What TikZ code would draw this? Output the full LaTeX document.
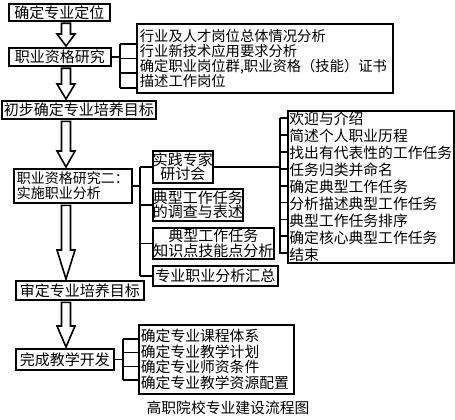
\documentclass[tikz,border=0pt]{standalone}
\usepackage{fontspec}
\setmainfont{Noto Sans CJK SC}
\usetikzlibrary{calc}
\tikzset{
  x=1pt, y=-1pt,
  box/.style={draw, line width=1.8pt, inner xsep=3pt, inner ysep=0pt, anchor=north west, align=center,
    font=\fontsize{15}{14.5}\selectfont},
  listbox/.style={draw, line width=1.8pt, inner xsep=3pt, inner ysep=0pt, anchor=north west, align=left},
  link/.style={line width=1.8pt},
  harrow/.style={line width=1.6pt, fill=white, line join=miter},
}
\newcommand\harr[3]{%
  \draw[harrow] ($(#1.south -| ax)+(-4.5,1.5)$) -- ($(#2.north -| ax)+(-4.5,-#3)$)
    -- ($(#2.north -| ax)+(-9,-#3)$) -- ($(#2.north -| ax)+(0,-1)$)
    -- ($(#2.north -| ax)+(9,-#3)$) -- ($(#2.north -| ax)+(4.5,-#3)$)
    -- ($(#1.south -| ax)+(4.5,1.5)$) -- cycle;}
\begin{document}
\begin{tikzpicture}
\useasboundingbox (0,0) rectangle (455,420);
\coordinate (ax) at (66,0);
% main column
\node[box, minimum width=101pt, minimum height=17pt] (b1) at (8,3) {确定专业定位};
\node[box, minimum width=102pt, minimum height=18pt] (b2) at (8,47) {职业资格研究};
\node[box, minimum width=154pt, minimum height=18pt, inner xsep=1pt] (b3) at (1,100) {初步确定专业培养目标};
\node[box, minimum width=117pt, minimum height=34pt, align=left, font=\fontsize{14}{14.5}\selectfont] (b4) at (13,168) {职业资格研究二：\\实施职业分析};
\node[box, minimum width=128pt, minimum height=19pt] (b5) at (15,280) {审定专业培养目标};
\node[box, minimum width=98pt, minimum height=21pt] (b6) at (15,348) {完成教学开发};
% lists
\node[listbox, text width=250pt, minimum height=69pt, font=\fontsize{14.3}{15}\selectfont] (r1) at (136,23)
  {行业及人才岗位总体情况分析\\行业新技术应用要求分析\\确定职业岗位群,职业资格（技能）证书\\描述工作岗位};
\node[listbox, text width=163pt, minimum height=152pt, inner xsep=1.5pt, font=\fontsize{14.8}{16.9}\selectfont] (big) at (287,110)
  {欢迎与介绍\\简述个人职业历程\\找出有代表性的工作任务\\任务归类并命名\\确定典型工作任务\\分析描述典型工作任务\\典型工作任务排序\\确定核心典型工作任务\\结束};
\node[listbox, text width=151pt, minimum height=69pt, inner xsep=2pt, font=\fontsize{14.8}{15.7}\selectfont] (b7) at (138,324)
  {确定专业课程体系\\确定专业教学计划\\确定专业师资条件\\确定专业教学资源配置};
% middle column
\node[box, minimum width=60pt, minimum height=32pt, inner xsep=0pt] (m1) at (152,150) {实践专家\\研讨会};
\node[box, minimum width=90pt, minimum height=32pt, inner xsep=0pt] (m2) at (152,188) {典型工作任务\\的调查与表述};
\node[box, minimum width=121pt, minimum height=31pt, inner xsep=0pt] (m3) at (152,227) {典型工作任务\\知识点技能点分析};
\node[box, minimum width=125pt, minimum height=20pt, inner xsep=0pt] (m4) at (152,265) {专业职业分析汇总};
% caption
\node[font=\fontsize{14.8}{16}\selectfont] (cap) at (228,408) {高职院校专业建设流程图};
% arrows
\harr{b1}{b2}{13}
\harr{b2}{b3}{16}
\harr{b3}{b4}{17}
\harr{b4}{b5}{30}
\harr{b5}{b6}{22}
% bracket 1
\coordinate (s1a) at (120,44); \coordinate (s1b) at (120,58.5);
\coordinate (s1c) at (120,73); \coordinate (s1d) at (120,88);
\draw[link] (b2.east) -- (b2.east -| s1a);
\draw[link] (s1a) -- (s1d);
\foreach \c in {s1a,s1b,s1c,s1d} \draw[link] (\c) -- (\c -| r1.west);
% bracket 2 (middle)
\coordinate (s2) at (140,0);
\draw[link] (b4.east) -- (b4.east -| s2);
\draw[link] (m1.west -| s2) -- (m4.west -| s2);
\foreach \m in {m1,m2,m3,m4} \draw[link] (\m.west -| s2) -- (\m.west);
% bracket 3 (big)
\coordinate (s3) at (280,0);
\draw[link] (m1.east) -- (m1.east -| s3);
\coordinate (s3a) at (280,118); \coordinate (s3b) at (280,253.5);
\draw[link] (s3a) -- (s3b);
\foreach \i in {0,...,8} {
  \coordinate (t) at (280,118+16.9*\i);
  \draw[link] (t) -- (t -| big.west);
}
% bracket 4
\coordinate (s4a) at (123,339); \coordinate (s4b) at (123,352.5);
\coordinate (s4c) at (123,366.5); \coordinate (s4d) at (123,380);
\draw[link] (b6.east) -- (b6.east -| s4a);
\draw[link] (s4a) -- (s4d);
\foreach \c in {s4a,s4b,s4c,s4d} \draw[link] (\c) -- (\c -| b7.west);
\end{tikzpicture}
\end{document}
